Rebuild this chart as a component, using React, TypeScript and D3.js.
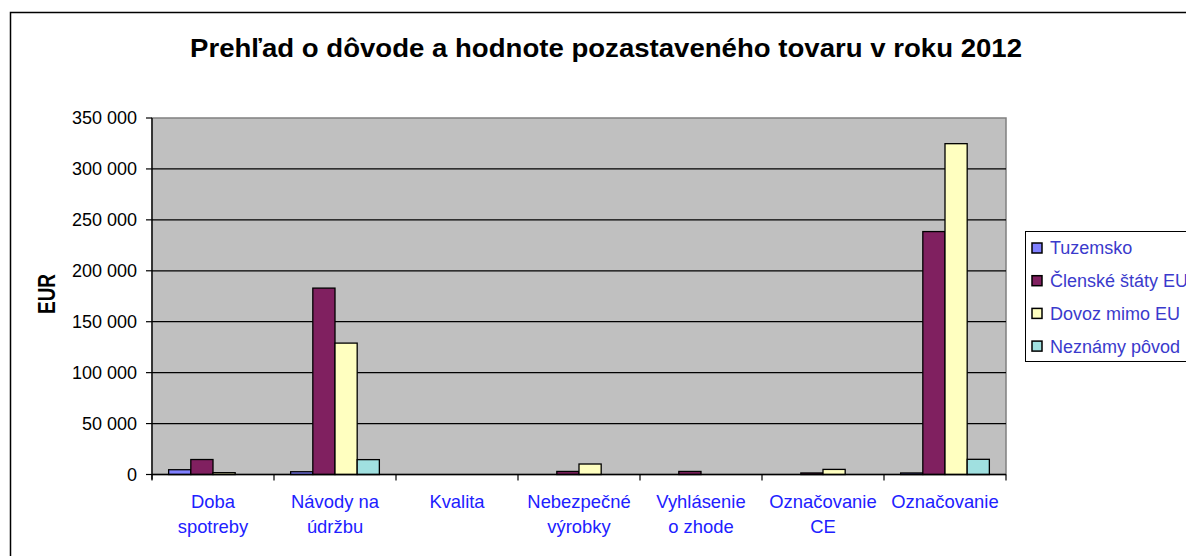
import React from "react";
import * as d3 from "d3";

const categories = [
  ["Doba", "spotreby"],
  ["Návody na", "údržbu"],
  ["Kvalita"],
  ["Nebezpečné", "výrobky"],
  ["Vyhlásenie", "o zhode"],
  ["Označovanie", "CE"],
  ["Označovanie"],
];
const seriesNames = ["Tuzemsko", "Členské štáty EU", "Dovoz mimo EU", "Neznámy pôvod"];
const seriesColors = ["#8080FF", "#802060", "#FFFFC0", "#A0E0E0"];
const tuzemsko = [4700, 2700, 0, 0, 0, 0, 1500];
const clenske = [14700, 183000, 0, 3000, 3000, 1500, 238500];
const dovoz = [1800, 129000, 0, 10300, 0, 5000, 324800];
const neznamy = [0, 14600, 0, 0, 0, 0, 14900];
const yTicks = [0, 50000, 100000, 150000, 200000, 250000, 300000, 350000];
const title = "Prehľad o dôvode a hodnote pozastaveného tovaru v roku 2012";

const series = [tuzemsko, clenske, dovoz, neznamy];

export default function App() {
  const left = 152, right = 1006, top = 118, bottom = 474.5;
  const x = d3.scaleBand<number>().domain(d3.range(categories.length)).range([left, right]).paddingInner(0).paddingOuter(0);
  const groupW = x.bandwidth();
  const barW = groupW / 5.5;
  const y = d3.scaleLinear().domain([0, 350000]).range([bottom, top]);
  const fmt = (v: number) => d3.format(",")(v).replace(/,/g, " ");
  const font = "Arial, 'Liberation Sans', sans-serif";

  return (
    <svg width={1186} height={556} style={{ position: "absolute", left: 0, top: 0, display: "block" }} fontFamily={font}>
      <rect x={0} y={0} width={1186} height={556} fill="#fff" />
      <rect x={10.5} y={12.5} width={1300} height={700} fill="#fff" stroke="#000" strokeWidth={1.5} />
      <text x={190} y={57} fontSize={26} fontWeight="bold" fill="#000" textLength={832} lengthAdjust="spacingAndGlyphs">{title}</text>
      <rect x={left} y={top} width={right - left} height={bottom - top} fill="#C0C0C0" stroke="#808080" strokeWidth={1.5} />
      {yTicks.map((t) => (
        <g key={t}>
          {t > 0 && t < 350000 && (
            <line x1={left} x2={right} y1={y(t)} y2={y(t)} stroke="#000" strokeWidth={1.2} />
          )}
          <line x1={left - 6} x2={left} y1={y(t)} y2={y(t)} stroke="#000" strokeWidth={1.2} />
          <text x={137} y={y(t)} dy="0.36em" textAnchor="end" fontSize={18} fill="#000">{fmt(t)}</text>
        </g>
      ))}
      {series.map((vals, si) =>
        vals.map((v, ci) =>
          v > 0 ? (
            <rect
              key={`${si}-${ci}`}
              x={(x(ci) as number) + barW * 0.75 + si * barW}
              y={y(v)}
              width={barW}
              height={bottom - y(v)}
              fill={seriesColors[si]}
              stroke="#000"
              strokeWidth={1.3}
            />
          ) : null
        )
      )}
      <line x1={left} x2={left} y1={top} y2={bottom + 5} stroke="#000" strokeWidth={1.3} />
      <line x1={left} x2={right} y1={bottom} y2={bottom} stroke="#000" strokeWidth={1.3} />
      {d3.range(categories.length + 1).map((i) => (
        <line key={i} x1={left + i * groupW} x2={left + i * groupW} y1={bottom} y2={bottom + 6} stroke="#000" strokeWidth={1.2} />
      ))}
      {categories.map((lines, ci) => (
        <text key={ci} textAnchor="middle" fontSize={18.4} fill="#2020FF">
          {lines.map((l, li) => (
            <tspan key={li} x={(x(ci) as number) + groupW / 2} y={508 + li * 25}>{l}</tspan>
          ))}
        </text>
      ))}
      <text transform="translate(55,294) rotate(-90)" textAnchor="middle" fontSize={23} fontWeight="bold" fill="#000" textLength={40} lengthAdjust="spacingAndGlyphs">EUR</text>
      <rect x={1025.5} y={231.5} width={200} height={130} fill="#fff" stroke="#000" strokeWidth={1} />
      {seriesNames.map((n, i) => (
        <g key={n}>
          <rect x={1032} y={243 + i * 32.7} width={10} height={10} fill={seriesColors[i]} stroke="#000" strokeWidth={1.5} />
          <text x={1050} y={248 + i * 32.7} dy="0.36em" fontSize={18} fill="#3A3ACC">{n}</text>
        </g>
      ))}
    </svg>
  );
}
